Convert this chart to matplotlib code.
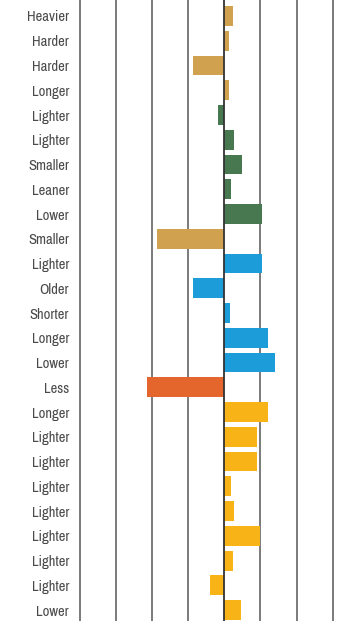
import matplotlib.pyplot as plt

# one row per item, top to bottom
labels = ['Heavier', 'Harder', 'Harder', 'Longer', 'Lighter', 'Lighter', 'Smaller',
          'Leaner', 'Lower', 'Smaller', 'Lighter', 'Older', 'Shorter', 'Longer',
          'Lower', 'Less', 'Longer', 'Lighter', 'Lighter', 'Lighter', 'Lighter',
          'Lighter', 'Lighter', 'Lighter', 'Lower']
values = [0.23, 0.12, -0.87, 0.12, -0.18, 0.27, 0.49, 0.18, 1.04, -1.86,
          1.04, -0.87, 0.16, 1.2, 1.4, -2.14, 1.2, 0.9, 0.9, 0.18,
          0.27, 1.0, 0.23, -0.4, 0.46]
groups = ['tan'] * 4 + ['green'] * 5 + ['tan'] + ['blue'] * 5 + ['orange'] + ['yellow'] * 9
grid_x = [-4, -3, -2, -1, 1, 2, 3]

palette = {'tan': '#D0A24F', 'green': '#48784F', 'blue': '#1C9DD9',
           'orange': '#E4662C', 'yellow': '#F8B416'}

fig = plt.figure(figsize=(3.64, 6.21), dpi=100)
ax = fig.add_axes([76 / 364, 0, 1 - 76 / 364, 1])

for x in grid_x:
    ax.axvline(x, color='#6f6f6f', lw=1.3, zorder=1)
ax.axvline(0, color='#333333', lw=1.3, zorder=3)

ypos = list(range(len(labels)))
ax.barh(ypos, values, height=0.8, color=[palette[g] for g in groups], zorder=2)

ax.set_xlim(-4.097, 3.86)
ax.set_ylim(24.44, -0.646)
ax.set_yticks(ypos)
ax.set_yticklabels(labels, family=['Archivo Narrow', 'DejaVu Sans'],
                   fontsize=10.5, color='#4a4a4a')
ax.tick_params(axis='y', length=0, pad=5)
ax.set_xticks([])
for s in ax.spines.values():
    s.set_visible(False)

fig.savefig('out.png', dpi=100)
